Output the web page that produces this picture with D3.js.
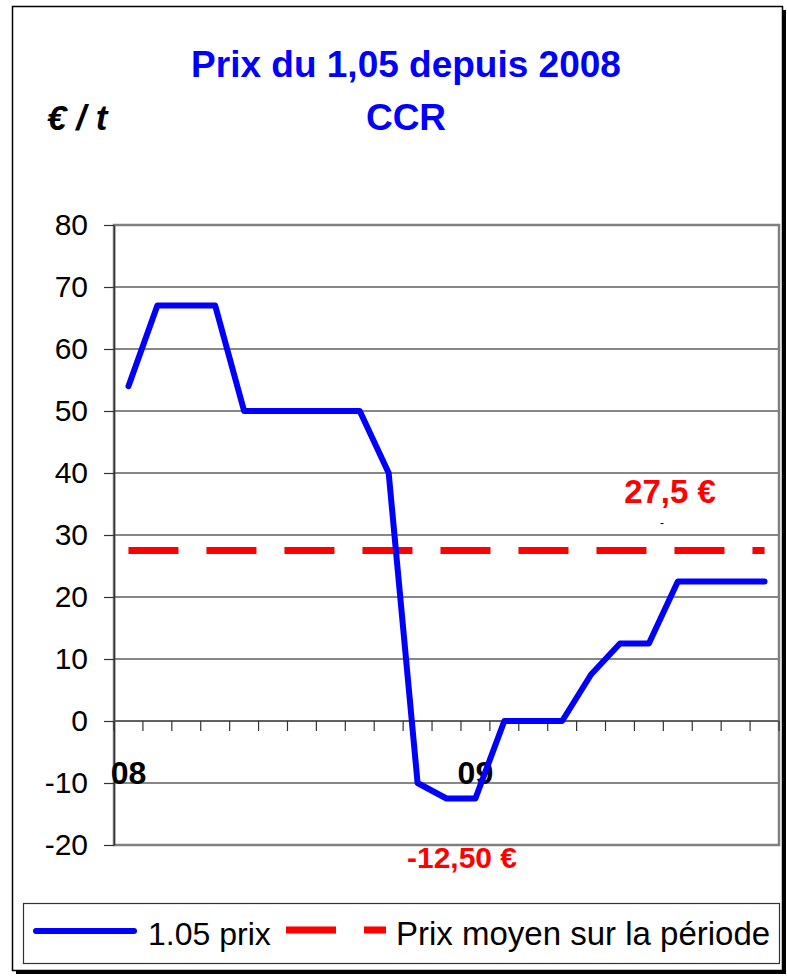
<!DOCTYPE html>
<html>
<head>
<meta charset="utf-8">
<script src="https://cdn.jsdelivr.net/npm/d3@7"></script>
<style>
  body { margin: 0; background: #fff; }
  svg { display: block; font-family: 'Liberation Sans', Arial, sans-serif; }
</style>
</head>
<body>
<svg id="chart" width="787" height="976"></svg>
<script>
// Data (one point per month, Jan 08 -> Nov 09)
const categories = ['08', '', '', '', '', '', '', '', '', '', '', '',
  '09', '', '', '', '', '', '', '', '', '', ''];
const prix = [54, 67, 67, 67, 50, 50, 50, 50, 50, 40, -10, -12.5, -12.5,
  0, 0, 0, 7.5, 12.5, 12.5, 22.5, 22.5, 22.5, 22.5];
const prixMoyen = categories.map(() => 27.5);
const yTicks = [-20, -10, 0, 10, 20, 30, 40, 50, 60, 70, 80];
const seriesNames = ['1.05 prix', 'Prix moyen sur la période'];

const svg = d3.select('#chart');

// Outer frame with shadow
svg.append('rect')
  .attr('x', 16).attr('y', 10)
  .attr('width', 770).attr('height', 964)
  .attr('fill', '#000');
svg.append('rect')
  .attr('x', 12.5).attr('y', 6.5)
  .attr('width', 770).attr('height', 964)
  .attr('fill', '#fff')
  .attr('stroke', '#000')
  .attr('stroke-width', 1.5);

// Plot area
let plot = { left: 114, right: 779, top: 225, bottom: 845 };

let xScale = d3.scaleBand()
  .domain(d3.range(categories.length))
  .range([plot.left, plot.right]);

let yScale = d3.scaleLinear()
  .domain([-20, 80])
  .range([plot.bottom, plot.top]);

let cx = (i) => xScale(i) + xScale.bandwidth() / 2;

// Gridlines
svg.append('g')
  .selectAll('line')
  .data(yTicks)
  .enter().append('line')
  .attr('x1', plot.left).attr('x2', plot.right)
  .attr('y1', (d) => yScale(d)).attr('y2', (d) => yScale(d))
  .attr('stroke', '#111')
  .attr('stroke-width', 1.2);

// Plot border (gray)
svg.append('rect')
  .attr('x', plot.left).attr('y', plot.top)
  .attr('width', plot.right - plot.left)
  .attr('height', plot.bottom - plot.top)
  .attr('fill', 'none')
  .attr('stroke', '#808080')
  .attr('stroke-width', 2.5);

// Y axis
let yAxis = d3.axisLeft(yScale)
  .tickValues(yTicks)
  .tickFormat((d) => String(d))
  .tickSize(10)
  .tickPadding(16)
  .tickSizeOuter(0);
let gy = svg.append('g')
  .attr('transform', 'translate(' + plot.left + ',0)')
  .call(yAxis);
gy.select('.domain').attr('stroke', '#333').attr('stroke-width', 1.5);
gy.selectAll('.tick line').attr('stroke', '#333').attr('stroke-width', 1.2);
gy.selectAll('.tick text')
  .attr('fill', '#000')
  .style('font-size', '30px')
  .style('font-family', "'Liberation Sans', Arial, sans-serif");

// X axis at zero: ticks between categories
let boundaries = d3.range(categories.length + 1)
  .map((i) => plot.left + i * xScale.step());
let gx = svg.append('g');
gx.append('line')
  .attr('x1', plot.left).attr('x2', plot.right)
  .attr('y1', yScale(0)).attr('y2', yScale(0))
  .attr('stroke', '#555')
  .attr('stroke-width', 1.5);
gx.selectAll('line.tick')
  .data(boundaries)
  .enter().append('line')
  .attr('class', 'tick')
  .attr('x1', (d) => d).attr('x2', (d) => d)
  .attr('y1', yScale(0)).attr('y2', yScale(0) + 10)
  .attr('stroke', '#333')
  .attr('stroke-width', 1.2);
gx.selectAll('text')
  .data(categories)
  .enter().append('text')
  .attr('x', (d, i) => cx(i))
  .attr('y', yScale(0) + 63)
  .attr('text-anchor', 'middle')
  .style('font-size', '32px')
  .style('font-weight', 'bold')
  .text((d) => d);

// Average line
let line = d3.line()
  .x((d, i) => cx(i))
  .y((d) => yScale(d));

svg.append('path')
  .datum(prixMoyen)
  .attr('d', line)
  .attr('fill', 'none')
  .attr('stroke', '#FF0000')
  .attr('stroke-width', 7)
  .attr('stroke-dasharray', '50,28');

// Price line
svg.append('path')
  .datum(prix)
  .attr('d', line)
  .attr('fill', 'none')
  .attr('stroke', '#0000FF')
  .attr('stroke-width', 6)
  .attr('stroke-linejoin', 'round')
  .attr('stroke-linecap', 'round');

// Titles
svg.append('text')
  .attr('x', 406).attr('y', 77)
  .attr('text-anchor', 'middle')
  .attr('fill', '#0000FF')
  .style('font-size', '37px')
  .style('font-weight', 'bold')
  .text('Prix du 1,05 depuis 2008');
svg.append('text')
  .attr('x', 406).attr('y', 130)
  .attr('text-anchor', 'middle')
  .attr('fill', '#0000FF')
  .style('font-size', '37px')
  .style('font-weight', 'bold')
  .text('CCR');
svg.append('text')
  .attr('x', 47).attr('y', 130)
  .style('font-size', '35px')
  .style('font-weight', 'bold')
  .style('font-style', 'italic')
  .text('€ / t');

// Annotations
svg.append('text')
  .attr('x', 670).attr('y', 503)
  .attr('text-anchor', 'middle')
  .attr('fill', '#FF0000')
  .style('font-size', '33px')
  .style('font-weight', 'bold')
  .text('27,5 €');
svg.append('text')
  .attr('x', 662).attr('y', 527)
  .attr('text-anchor', 'middle')
  .style('font-size', '12px')
  .text('-');
svg.append('text')
  .attr('x', 462).attr('y', 868)
  .attr('text-anchor', 'middle')
  .attr('fill', '#FF0000')
  .style('font-size', '30px')
  .style('font-weight', 'bold')
  .text('-12,50 €');

// Legend
let legend = svg.append('g');
legend.append('rect')
  .attr('x', 23.5).attr('y', 903.5)
  .attr('width', 756).attr('height', 60)
  .attr('fill', '#fff')
  .attr('stroke', '#333')
  .attr('stroke-width', 1.2);
legend.append('line')
  .attr('x1', 36).attr('x2', 134)
  .attr('y1', 931).attr('y2', 931)
  .attr('stroke', '#0000FF')
  .attr('stroke-width', 6)
  .attr('stroke-linecap', 'round');
legend.append('text')
  .attr('x', 148).attr('y', 945)
  .style('font-size', '32px')
  .text(seriesNames[0]);
legend.append('line')
  .attr('x1', 286).attr('x2', 386)
  .attr('y1', 930).attr('y2', 930)
  .attr('stroke', '#FF0000')
  .attr('stroke-width', 7)
  .attr('stroke-dasharray', '50,28');
legend.append('text')
  .attr('x', 396).attr('y', 945)
  .style('font-size', '33px')
  .text(seriesNames[1]);
</script>
</body>
</html>
